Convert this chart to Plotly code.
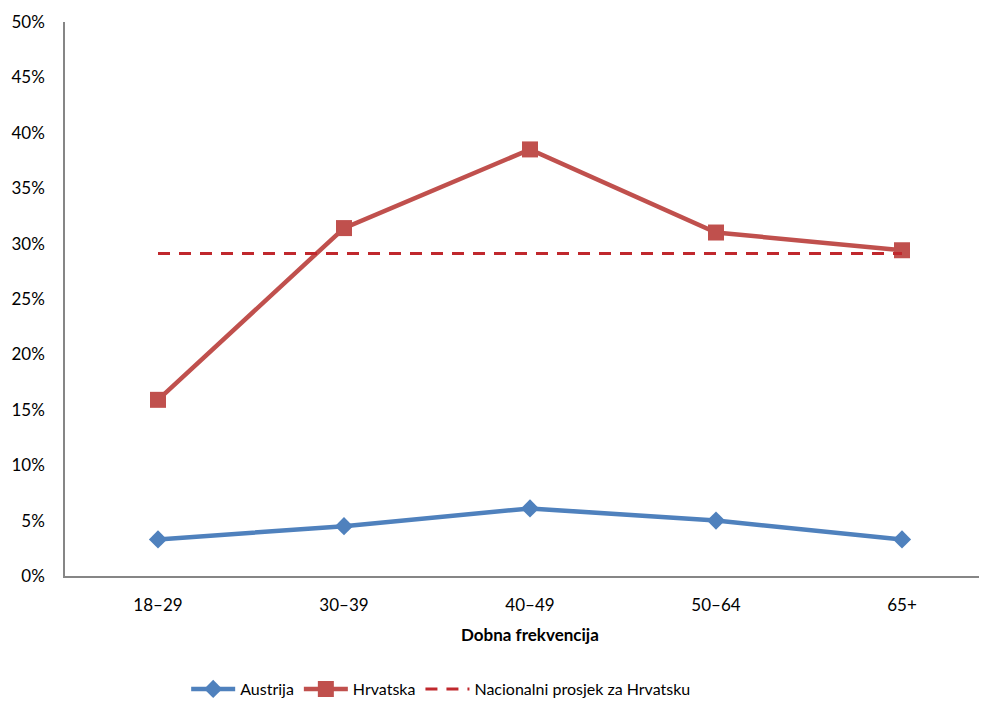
import plotly.graph_objects as go

categories = ["18–29", "30–39", "40–49", "50–64", "65+"]
austrija = [0.033, 0.045, 0.061, 0.050, 0.033]
hrvatska = [0.159, 0.314, 0.385, 0.310, 0.294]
nacionalni = [0.291, 0.291, 0.291, 0.291, 0.291]
y_ticks = [0, 0.05, 0.10, 0.15, 0.20, 0.25, 0.30, 0.35, 0.40, 0.45, 0.50]
y_ticklabels = ["0%", "5%", "10%", "15%", "20%", "25%", "30%", "35%", "40%", "45%", "50%"]

FONT = "Lato, Calibri, Carlito, sans-serif"
xi = list(range(len(categories)))

fig = go.Figure()
fig.add_trace(go.Scatter(
    x=xi, y=austrija, name="Austrija", mode="lines+markers",
    line=dict(color="#4F81BD", width=4.5),
    marker=dict(symbol="diamond", size=14, color="#4F81BD"),
))
fig.add_trace(go.Scatter(
    x=xi, y=hrvatska, name="Hrvatska", mode="lines+markers",
    line=dict(color="#C0504D", width=4.5),
    marker=dict(symbol="square", size=16, color="#C0504D"),
))
fig.add_trace(go.Scatter(
    x=xi, y=nacionalni, name="Nacionalni prosjek za Hrvatsku", mode="lines",
    line=dict(color="#C0282D", width=3, dash="12px,9px"),
))

fig.update_layout(
    width=979, height=694,
    margin=dict(l=57, r=0, t=14, b=126, autoexpand=False),
    paper_bgcolor="white", plot_bgcolor="white",
    font=dict(family=FONT, size=17, color="#000000"),
    showlegend=True,
    legend=dict(orientation="h", x=0.408, xanchor="center",
                y=-0.204, yanchor="middle", font=dict(size=16),
                itemwidth=44, tracegroupgap=0),
)
fig.update_xaxes(
    range=[-0.5, 4.457], tickmode="array", tickvals=xi, ticktext=categories,
    showline=True, linecolor="#868686", linewidth=1.5, showgrid=False,
    zeroline=False, ticks="", ticklabelstandoff=13, automargin=False,
)
fig.update_yaxes(
    range=[0, 0.5], tickmode="array", tickvals=y_ticks, ticktext=y_ticklabels,
    showline=True, linecolor="#868686", linewidth=1.5, showgrid=False,
    zeroline=False, ticks="", ticklabelstandoff=15, automargin=False,
)
fig.add_annotation(
    x=2, y=-0.105, xref="x", yref="paper", text="<b>Dobna frekvencija</b>",
    showarrow=False, font=dict(size=17, family=FONT), yanchor="middle",
)
fig.write_html("out.html")
